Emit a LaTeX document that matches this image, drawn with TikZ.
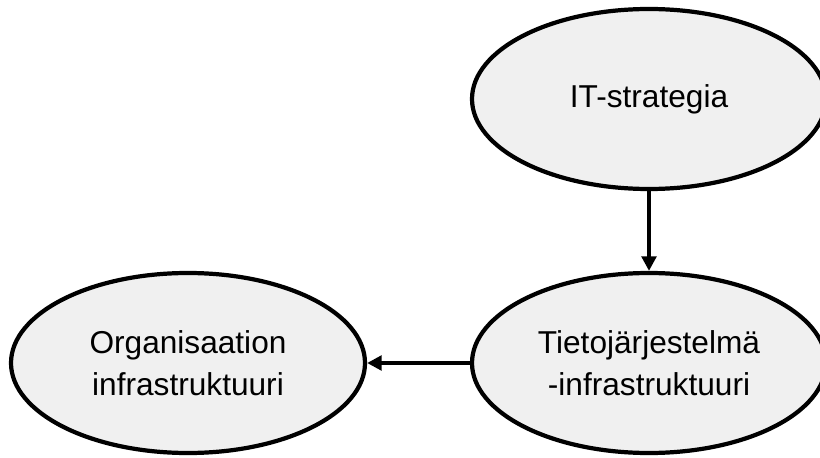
\documentclass[tikz,border=0pt]{standalone}
\usepackage{fontspec}
\setmainfont{Liberation Sans}
\usetikzlibrary{shapes.geometric,arrows.meta}
\tikzstyle{oval}=[ellipse,draw,fill=black!6,line width=3pt,minimum width=8.85cm,minimum height=4.5cm,inner sep=0pt,align=center,font=\fontsize{22.5}{29.5}\selectfont]
\tikzstyle{flow}=[draw,line width=2.6pt,{Triangle[length=0.36cm,width=0.36cm]}-]

\begin{document}
\begin{tikzpicture}
                \useasboundingbox (0,0) rectangle (20.5,11.425);
                \path (16.225,8.95) node[oval] (strat) {IT-strategia}
                    ++ (0,-6.6) node[oval] (tieto) {Tietoj\"arjestelm\"a\\-infrastruktuuri} edge[flow] (strat)
                    ++ (-11.525,0) node[oval] (org) {Organisaation\\infrastruktuuri} edge[flow] (tieto)
                    ;
            \end{tikzpicture}
\end{document}
